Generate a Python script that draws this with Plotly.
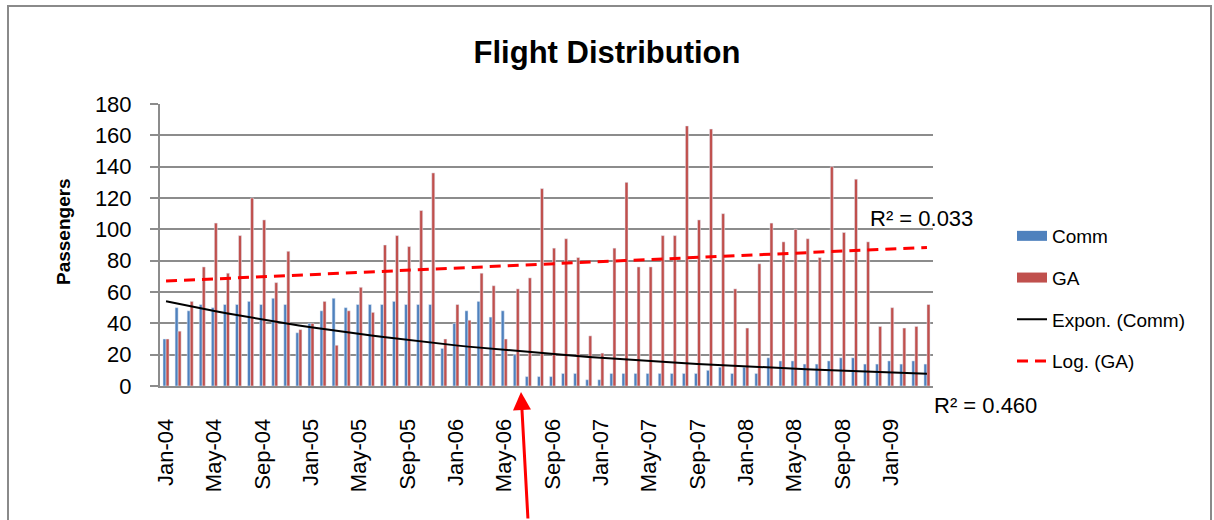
import numpy as np
import pandas as pd
import plotly.graph_objects as go

# ---------------- data ----------------
months = pd.date_range("2004-01-01", periods=64, freq="MS")
month_labels = [d.strftime("%b-%y") for d in months]
tick_labels = month_labels[::4]

comm = [30, 50, 48, 52, 50, 52, 52, 54, 52, 56, 52, 34,
        40, 48, 56, 50, 52, 52, 52, 54, 52, 52, 52, 24,
        40, 48, 54, 44, 48, 20, 6, 6, 6, 8, 8, 4,
        4, 8, 8, 8, 8, 8, 8, 8, 8, 10, 12, 8,
        12, 8, 18, 16, 16, 14, 14, 16, 18, 18, 14, 14,
        16, 14, 16, 14]

ga = [30, 35, 54, 76, 104, 72, 96, 120, 106, 66, 86, 36,
      40, 54, 26, 48, 63, 47, 90, 96, 89, 112, 136, 30,
      52, 42, 72, 64, 30, 62, 69, 126, 88, 94, 82, 32,
      21, 88, 130, 76, 76, 96, 96, 166, 106, 164, 110, 62,
      37, 78, 104, 92, 100, 94, 82, 140, 98, 132, 92, 38,
      50, 37, 38, 52]

r2_comm_text = "R\u00b2 = 0.460"
r2_ga_text = "R\u00b2 = 0.033"

# ---------------- trend lines (Excel-style, x = date serial) ----------------
serial = np.array([(d - pd.Timestamp("1899-12-30")).days for d in months], dtype=float)
b, ln_a = np.polyfit(serial, np.log(np.array(comm, dtype=float)), 1)
comm_trend = np.exp(ln_a + b * serial)
c, d0 = np.polyfit(np.log(serial), np.array(ga, dtype=float), 1)
ga_trend = c * np.log(serial) + d0

# ---------------- style ----------------
BLUE = "#4F81BD"
RED = "#C0504D"
GRID = "#8c8c8c"
FONT = "Liberation Sans, Arial, sans-serif"

W, H = 1214, 520
L, R, T, B = 160, 281, 104, 134
PW, PH = W - L - R, H - T - B


def px(x):
    return (x - L) / PW


def py(y):
    return (H - B - y) / PH


fig = go.Figure()

fig.add_trace(go.Bar(x=month_labels, y=comm, name="Comm", marker_color=BLUE,
                     showlegend=False))
fig.add_trace(go.Bar(x=month_labels, y=ga, name="GA", marker_color=RED,
                     showlegend=False))

fig.add_trace(go.Scatter(x=month_labels, y=comm_trend, mode="lines",
                         name="Expon. (Comm)", line=dict(color="black", width=2),
                         legendgroup="c", legendrank=3))
fig.add_trace(go.Scatter(x=month_labels, y=ga_trend, mode="lines",
                         name="Log. (GA)", line=dict(color="#FF0000", width=3, dash="11px,7px"),
                         legendgroup="d", legendrank=4))

# legend proxies for the bars (wide colour blocks like the original)
fig.add_trace(go.Scatter(x=[None], y=[None], mode="lines", name="Comm",
                         line=dict(color=BLUE, width=12), legendgroup="a", legendrank=1))
fig.add_trace(go.Scatter(x=[None], y=[None], mode="lines", name="GA",
                         line=dict(color=RED, width=12), legendgroup="b", legendrank=2))

fig.update_layout(
    width=W, height=H,
    margin=dict(l=L, r=R, t=T, b=B),
    paper_bgcolor="white", plot_bgcolor="white",
    font=dict(family=FONT, color="black", size=22),
    barmode="group", bargap=0.5, bargroupgap=0,
    title=dict(text="<b>Flight Distribution</b>", x=0.5, xref="container", xanchor="center",
               y=1 - 52 / H, yref="container", yanchor="middle",
               font=dict(family=FONT, size=31, color="black")),
    legend=dict(x=px(1012), xanchor="left", y=py(217), yanchor="top",
                font=dict(family=FONT, size=19, color="black"),
                tracegroupgap=14, bgcolor="rgba(0,0,0,0)"),
    showlegend=True,
)

fig.update_xaxes(type="category", tickmode="array", tickvals=tick_labels, ticktext=tick_labels,
                 tickangle=-90, showline=True, linecolor=GRID, linewidth=2,
                 showgrid=False, ticks="", ticklabelstandoff=22,
                 tickfont=dict(family=FONT, size=22, color="black"))
fig.update_yaxes(range=[0, 180], dtick=20, showline=True, linecolor=GRID, linewidth=2,
                 showgrid=True, gridcolor=GRID, gridwidth=1.5, zeroline=False,
                 ticks="outside", ticklen=8, tickcolor=GRID, tickwidth=2,
                 ticklabelstandoff=14,
                 tickfont=dict(family=FONT, size=22, color="black"))

# axis title
fig.add_annotation(text="<b>Passengers</b>", xref="paper", yref="paper",
                   x=px(63), y=py(232), xanchor="center", yanchor="middle",
                   textangle=-90, showarrow=False,
                   font=dict(family=FONT, size=19, color="black"))

# R² labels
fig.add_annotation(text=r2_ga_text, xref="paper", yref="paper", x=px(921), y=py(218),
                   xanchor="center", yanchor="middle",
                   showarrow=False, font=dict(family=FONT, size=22, color="black"))
fig.add_annotation(text=r2_comm_text, xref="paper", yref="paper", x=px(985), y=py(405),
                   xanchor="center", yanchor="middle",
                   showarrow=False, font=dict(family=FONT, size=22, color="black"))

# red pointer arrow
fig.add_annotation(text="", xref="paper", yref="paper", x=px(521), y=py(392),
                   ax=7, ay=140, showarrow=True, arrowhead=2, arrowsize=1.2,
                   arrowwidth=3, arrowcolor="#FF0000")

# chart frame
fig.add_shape(type="rect", xref="paper", yref="paper",
              x0=px(8), x1=px(1211), y0=py(540), y1=py(6),
              line=dict(color="#8a8a8a", width=2), fillcolor="rgba(0,0,0,0)", layer="below")

fig.write_html("out.html", config={"displayModeBar": False},
               post_script="document.body.style.margin='0';")
